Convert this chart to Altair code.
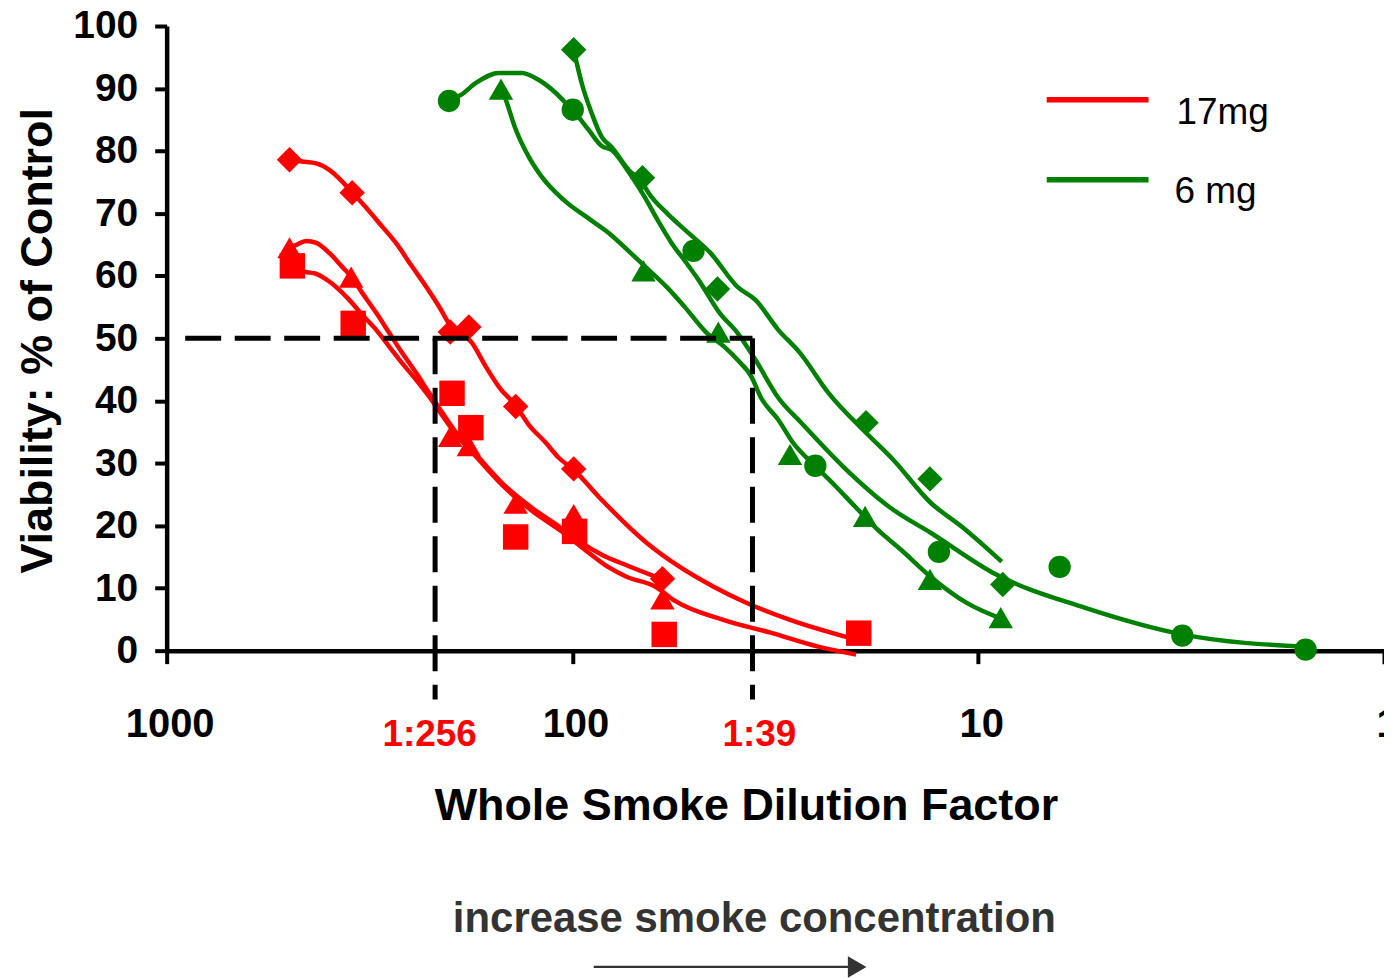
import altair as alt
import pandas as pd

FONT = "Liberation Sans"
RED = "#FF0000"
GREEN = "#008000"
GREY = "#333333"

PRODUCTS = ["17mg", "6 mg"]

# ---------------- measured points (dilution factor, viability %) ----------------
red_diamond_x = [498, 349, 200, 180, 138, 99.3, 60.0]
red_diamond_y = [78.6, 73.3, 51.0, 51.8, 39.1, 29.1, 11.5]
red_triangle_x = [498, 351, 200, 180, 138, 99.3, 60.0]
red_triangle_y = [64.5, 59.8, 34.3, 32.8, 23.6, 21.8, 8.3]
red_square_x = [490, 347, 198, 178, 138, 98.8, 59.4, 19.7]
red_square_y = [61.6, 52.4, 41.2, 35.7, 18.2, 19.1, 2.6, 2.8]

green_diamond_x = [99.3, 67.2, 43.9, 18.9, 13.15, 8.7]
green_diamond_y = [96.2, 75.7, 57.9, 36.5, 27.5, 10.6]
green_triangle_x = [150, 66.8, 43.7, 29.1, 19.0, 13.15, 8.8]
green_triangle_y = [89.9, 60.8, 51.0, 31.4, 21.5, 11.4, 5.3]
green_circle_x = [201.5, 99.8, 50.3, 25.2, 12.5, 6.3, 3.14, 1.56]
green_circle_y = [88.0, 86.6, 64.0, 29.6, 15.8, 13.4, 2.4, 0.16]

# ---------------- fitted curves ----------------
red_diamond_fit_x = [498.4, 463.0, 427.8, 397.4, 369.2, 350.8, 329.7, 294.3, 272.0, 248.4, 229.5, 213.2,
                     199.2, 176.8, 163.4, 151.8, 137.9, 128.1, 116.3, 108.1, 99.3, 86.15, 65.7, 54.5,
                     44.9, 37.3, 29.2, 20.0]
red_diamond_fit_y = [78.56, 78.3, 78.0, 76.96, 75.09, 73.49, 71.63, 67.89, 65.23, 61.49, 58.29, 55.09,
                     51.89, 49.28, 45.44, 42.24, 39.2, 36.16, 33.28, 30.88, 28.96, 24.64, 17.28, 13.44,
                     10.24, 7.68, 4.96, 1.76]
red_triangle_fit_x = [498.4, 479.0, 452.7, 427.8, 397.4, 369.2, 350.8, 329.7, 304.5, 282.9, 262.8, 242.8,
                      225.6, 213.2, 195.8, 170.0, 147.5, 125.9, 106.9, 96.0, 83.75, 73.1, 62.4]
red_triangle_fit_y = [64.48, 64.96, 65.6, 65.28, 63.68, 61.44, 59.84, 57.28, 54.08, 50.88, 47.68, 44.48,
                      41.28, 38.88, 35.36, 30.88, 26.56, 22.88, 19.68, 17.44, 15.2, 13.6, 11.84]
red_square_fit_x = [490.0, 457.9, 427.8, 397.4, 375.5, 354.8, 329.7, 304.5, 282.9, 262.8, 242.8, 225.6,
                    213.2, 195.8, 170.0, 147.5, 125.9, 106.9, 91.2, 81.9, 73.6, 62.4, 56.0, 42.7,
                    32.5, 24.8, 20.0]
red_square_fit_y = [61.6, 60.69, 60.32, 59.09, 57.76, 56.16, 53.76, 51.36, 48.69, 46.03, 43.36, 40.69,
                    38.4, 35.04, 30.56, 26.24, 22.4, 19.2, 15.68, 13.44, 11.84, 10.24, 8.0, 4.96,
                    2.88, 0.64, -0.64]

green_diamond_fit_x = [99.3, 97.6, 94.9, 89.7, 84.7, 80.1, 72.7, 67.2, 64.9, 58.6, 51.8, 45.7,
                       39.2, 35.4, 31.1, 27.5, 23.4, 18.9, 16.2, 13.1, 10.97, 8.75]
green_diamond_fit_y = [96.16, 94.08, 90.88, 86.08, 82.24, 80.64, 76.96, 74.88, 73.28, 70.08, 66.88, 63.68,
                       58.24, 56.16, 51.36, 47.68, 41.28, 34.88, 30.56, 23.68, 19.84, 14.24]
green_triangle_fit_x = [149.2, 145.9, 138.7, 128.1, 119.0, 105.1, 90.2, 81.4, 71.9, 64.9, 58.6, 52.9,
                        46.7, 42.2, 39.2, 36.2, 34.4, 31.1, 28.6, 25.1, 22.4, 20.1, 17.7, 15.5,
                        13.1, 10.7, 8.65]
green_triangle_fit_y = [89.76, 88.16, 83.84, 79.04, 75.84, 72.16, 68.96, 66.88, 63.68, 60.96, 58.24, 55.04,
                        50.88, 48.64, 46.56, 43.84, 40.64, 36.96, 33.28, 29.44, 26.24, 23.04, 19.36, 16.16,
                        11.84, 7.68, 4.96]
green_circle_fit_x = [201.5, 188.3, 172.9, 151.8, 133.3, 121.0, 109.9, 103.9, 99.8, 91.2, 84.7, 80.1,
                      72.7, 66.4, 61.7, 57.0, 52.6, 48.9, 43.4, 39.2, 35.4, 31.1, 27.3, 21.5,
                      16.2, 13.1, 9.21, 5.47, 3.12, 1.556]
green_circle_fit_y = [88.0, 88.96, 90.88, 92.48, 92.48, 91.36, 89.28, 87.68, 86.56, 83.36, 80.8, 80.16,
                      76.64, 72.64, 68.96, 65.28, 62.24, 59.36, 54.08, 50.88, 46.56, 40.48, 36.48, 29.44,
                      22.56, 18.88, 12.48, 6.88, 2.56, 0.64]

# ---------------- 50% reference (IC50 read-off) ----------------
half_level = 50
ic50_17mg = 218.0   # 1:256 label
ic50_6mg = 36.0     # 1:39 label
ref_left = 900.0
ref_bottom = -7.8

x_ticks = [1000, 100, 10, 1]
y_ticks = list(range(0, 101, 10))


def frame(xs, ys, product, series, shape=None):
    return pd.DataFrame({
        "dilution": xs, "viability": ys, "product": product,
        "series": series, "shape": shape, "idx": list(range(len(xs))),
    })


marker_size = {"diamond": 650, "triangle-up": 600, "square": 650, "circle": 500}

points = pd.concat([
    frame(red_diamond_x, red_diamond_y, "17mg", "r-d", "diamond"),
    frame(red_triangle_x, red_triangle_y, "17mg", "r-t", "triangle-up"),
    frame(red_square_x, red_square_y, "17mg", "r-s", "square"),
    frame(green_diamond_x, green_diamond_y, "6 mg", "g-d", "diamond"),
    frame(green_triangle_x, green_triangle_y, "6 mg", "g-t", "triangle-up"),
    frame(green_circle_x, green_circle_y, "6 mg", "g-c", "circle"),
], ignore_index=True)
points["msize"] = points["shape"].map(marker_size)

curves = pd.concat([
    frame(red_diamond_fit_x, red_diamond_fit_y, "17mg", "r-d"),
    frame(red_triangle_fit_x, red_triangle_fit_y, "17mg", "r-t"),
    frame(red_square_fit_x, red_square_fit_y, "17mg", "r-s"),
    frame(green_diamond_fit_x, green_diamond_fit_y, "6 mg", "g-d"),
    frame(green_triangle_fit_x, green_triangle_fit_y, "6 mg", "g-t"),
    frame(green_circle_fit_x, green_circle_fit_y, "6 mg", "g-c"),
], ignore_index=True)

refs = pd.DataFrame({
    "dilution": [ref_left, ic50_17mg, ic50_6mg],
    "dilution2": [ic50_6mg, ic50_17mg, ic50_6mg],
    "viability": [half_level, half_level, half_level],
    "viability2": [half_level, ref_bottom, ref_bottom],
})

x_scale = alt.Scale(type="log", domain=[1, 1000], reverse=True, nice=False)
y_scale = alt.Scale(domain=[0, 100], nice=False, zero=False)
color_scale = alt.Scale(domain=PRODUCTS, range=[RED, GREEN])

x_axis = alt.Axis(values=x_ticks, format="d", labelFlush=False, labelOverlap=False, labelOffset=3,
                  tickSize=13, labelPadding=41, labelFontSize=40,
                  title="Whole Smoke Dilution Factor", titleFontSize=45,
                  titleX=580.5, titleY=169, titleAlign="center", titleBaseline="alphabetic")
y_axis = alt.Axis(values=y_ticks, tickSize=12, labelPadding=17, labelFontSize=39,
                  title="Viability: % of Control", titleFontSize=45, titleAngle=270,
                  titleX=-115.5, titleY=315, titleAlign="center", titleBaseline="alphabetic")

X = alt.X("dilution:Q", scale=x_scale, axis=x_axis)
Y = alt.Y("viability:Q", scale=y_scale, axis=y_axis)

lines = alt.Chart(curves).mark_line(strokeWidth=4.5, interpolate="monotone").encode(
    x=X, y=Y,
    color=alt.Color("product:N", scale=color_scale, legend=None),
    detail="series:N",
    order=alt.Order("idx:Q"),
)

marks = alt.Chart(points).mark_point(filled=True, opacity=1).encode(
    x=X, y=Y,
    color=alt.Color("product:N", scale=color_scale, legend=None),
    shape=alt.Shape("shape:N", scale=None),
    size=alt.Size("msize:Q", scale=None),
)

ref_lines = alt.Chart(refs).mark_rule(color="black", strokeWidth=5, strokeDash=[36, 13.6],
                                       strokeCap="butt").encode(
    x=X, x2="dilution2:Q", y=Y, y2="viability2:Q",
)

lab_256 = alt.Chart(pd.DataFrame({"dilution": [ic50_17mg], "label": ["1:256"]})).mark_text(
    color=RED, font=FONT, fontSize=37, fontWeight="bold", baseline="alphabetic", align="center", dx=-5.5
).encode(x=X, y=alt.value(722), text="label:N")

lab_39 = alt.Chart(pd.DataFrame({"dilution": [ic50_6mg], "label": ["1:39"]})).mark_text(
    color=RED, font=FONT, fontSize=37, fontWeight="bold", baseline="alphabetic", align="center", dx=7
).encode(x=X, y=alt.value(722), text="label:N")

one = pd.DataFrame({"k": [0]})

note = alt.Chart(one).mark_text(
    color=GREY, font=FONT, fontSize=42, fontWeight="bold", baseline="alphabetic", align="center"
).encode(x=alt.value(589), y=alt.value(908), text=alt.value("increase smoke concentration"))

arrow_shaft = alt.Chart(one).mark_rule(color=GREY, strokeWidth=2.2).encode(
    x=alt.value(428), x2=alt.value(684), y=alt.value(943))
arrow_head = alt.Chart(one).mark_point(shape="triangle-right", filled=True, opacity=1, size=460,
                                       color=GREY).encode(x=alt.value(692), y=alt.value(943))

leg_red = alt.Chart(one).mark_rule(color=RED, strokeWidth=5.5).encode(
    x=alt.value(882), x2=alt.value(984), y=alt.value(74))
leg_green = alt.Chart(one).mark_rule(color=GREEN, strokeWidth=5.5).encode(
    x=alt.value(882), x2=alt.value(984), y=alt.value(154))
leg_red_t = alt.Chart(one).mark_text(font=FONT, fontSize=37, color="black", align="left",
                                     baseline="alphabetic").encode(
    x=alt.value(1012), y=alt.value(98), text=alt.value(PRODUCTS[0]))
leg_green_t = alt.Chart(one).mark_text(font=FONT, fontSize=37, color="black", align="left",
                                       baseline="alphabetic").encode(
    x=alt.value(1010), y=alt.value(177), text=alt.value(PRODUCTS[1]))

chart = alt.layer(
    lines, marks, ref_lines, lab_256, lab_39, note, arrow_shaft, arrow_head,
    leg_red, leg_green, leg_red_t, leg_green_t,
).properties(
    width=1220, height=626,
    autosize=alt.AutoSizeParams(type="none"),
    padding={"left": 159, "top": 17, "right": 0, "bottom": 327},
).configure_view(stroke=None).configure_axis(
    grid=False, domainColor="black", domainWidth=4.5, tickColor="black", tickWidth=4,
    labelColor="black", labelFont=FONT, labelFontWeight="bold",
    titleColor="black", titleFont=FONT, titleFontWeight="bold",
)

chart.save("out.html", embed_options={"renderer": "svg", "actions": False})
